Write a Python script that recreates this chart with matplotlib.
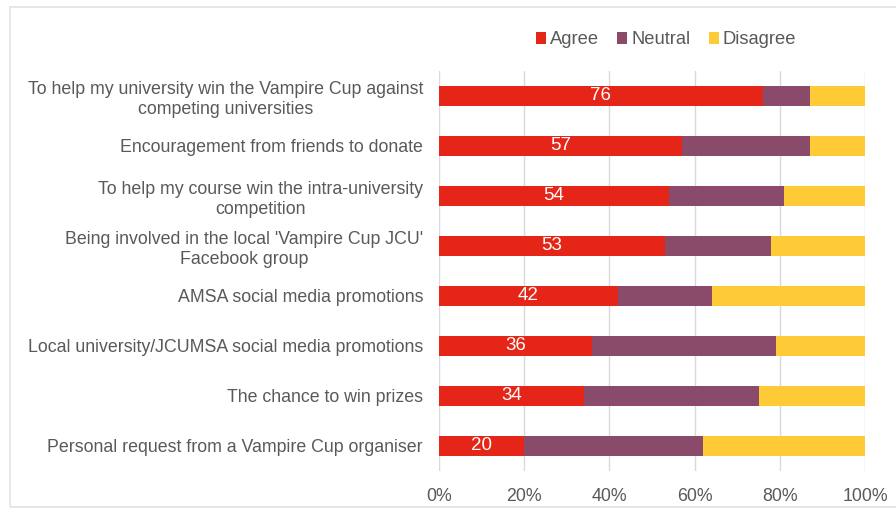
import matplotlib.pyplot as plt
import numpy as np
from matplotlib.patches import Rectangle

# Survey responses (%), listed top to bottom
statements = [
    "To help my university win the Vampire Cup against\ncompeting universities",
    "Encouragement from friends to donate",
    "To help my course win the intra-university\ncompetition",
    "Being involved in the local 'Vampire Cup JCU'\nFacebook group",
    "AMSA social media promotions",
    "Local university/JCUMSA social media promotions",
    "The chance to win prizes",
    "Personal request from a Vampire Cup organiser",
]
agree = [76, 57, 54, 53, 42, 36, 34, 20]
neutral = [11, 30, 27, 25, 22, 43, 41, 42]
disagree = [13, 13, 19, 22, 36, 21, 25, 38]
tick_labels = ["0%", "20%", "40%", "60%", "80%", "100%"]

plt.rcParams['font.family'] = ['Liberation Sans', 'DejaVu Sans']
text_color = "#595959"

fig = plt.figure(figsize=(8.96, 5.13), dpi=100)
ax = fig.add_axes([439 / 896, 1 - 471 / 513, 426 / 896, 400 / 513])

# light frame around the chart area
fig.patches.append(Rectangle((10 / 896, 1 - 507 / 513), 0.995, 500 / 513,
                             transform=fig.transFigure, fill=False,
                             edgecolor="#E3E3E3", lw=1.2))

y = np.arange(len(statements))
agree = np.array(agree)
neutral = np.array(neutral)
disagree = np.array(disagree)
totals = agree + neutral + disagree
a_pct = agree / totals * 100
n_pct = neutral / totals * 100
d_pct = disagree / totals * 100

h = 0.4
ax.barh(y, a_pct, height=h, color="#E42518", label="Agree", zorder=3)
ax.barh(y, n_pct, left=a_pct, height=h, color="#8A4A69", label="Neutral", zorder=3)
ax.barh(y, d_pct, left=a_pct + n_pct, height=h, color="#FECB36", label="Disagree", zorder=3)

for yi, val, w in zip(y, agree, a_pct):
    ax.text(w / 2, yi, str(val), ha="center", va="center", color="white",
            fontsize=13.5, zorder=4)

ax.set_xlim(0, 100)
ax.set_ylim(len(statements) - 0.5, -0.5)
ax.set_xticks(np.arange(0, 101, 20))
ax.set_xticklabels(tick_labels)
ax.set_yticks(y)
ax.set_yticklabels(statements, ha="center", multialignment="center")
ax.tick_params(axis="y", length=0, pad=0, labelsize=12.8, labelcolor=text_color)
ax.tick_params(axis="x", length=0, pad=12, labelsize=12.8, labelcolor=text_color)

# shift centered y labels so their right edges sit near the axis
fig.canvas.draw()
renderer = fig.canvas.get_renderer()
for lab in ax.get_yticklabels():
    bb = lab.get_window_extent(renderer)
    lab.set_x(-(bb.width / 2 + 16) / (426))
    lab.set_linespacing(1.25)

ax.xaxis.grid(True, color="#D9D9D9", lw=1, zorder=0)
for s in ax.spines.values():
    s.set_visible(False)

ax.legend(loc="center", bbox_to_anchor=(666 / 896, 1 - 40 / 513),
          bbox_transform=fig.transFigure, ncol=3, frameon=False,
          fontsize=13.2, handlelength=0.55, handleheight=0.55,
          handletextpad=0.2, columnspacing=1.0, labelcolor=text_color)

fig.savefig("out.png", dpi=100)
